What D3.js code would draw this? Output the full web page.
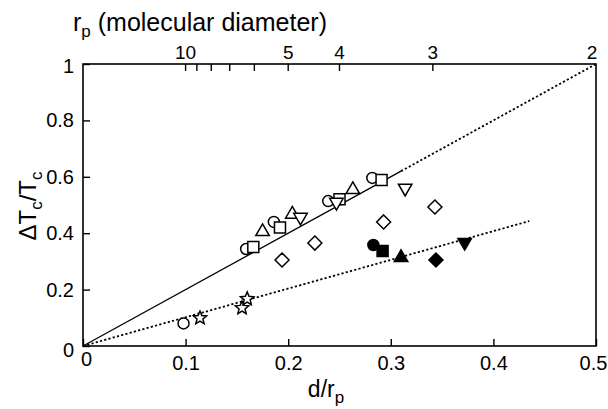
<!DOCTYPE html>
<html><head><meta charset="utf-8">
<script src="https://cdn.jsdelivr.net/npm/d3@7"></script>
<style>
body{margin:0;background:#fff;}
text{font-family:"Liberation Sans",Arial,Helvetica,sans-serif;fill:#000;}
</style></head>
<body><svg id="c" width="608" height="409"></svg>
<script>
// ---- data ----
const xTicks = [0, 0.1, 0.2, 0.3, 0.4, 0.5];
const yTicks = [0, 0.2, 0.4, 0.6, 0.8, 1];
const topTickLabels = ["10", "5", "4", "3", "2"];
const topTickLabelPos = [0.1, 0.2, 0.25, 0.341, 0.5];
const topTickPos = [0.1, 0.111, 0.125, 0.143, 0.167, 0.2, 0.25, 0.341];

const openCircle   = [[0.098,0.080],[0.159,0.344],[0.186,0.440],[0.239,0.514],[0.282,0.596]];
const openSquare   = [[0.166,0.351],[0.192,0.420],[0.250,0.520],[0.291,0.589]];
const openTriUp    = [[0.175,0.408],[0.204,0.470],[0.263,0.557]];
const openTriDown  = [[0.212,0.454],[0.247,0.507],[0.314,0.557]];
const openDiamond  = [[0.194,0.305],[0.226,0.365],[0.293,0.440],[0.343,0.493]];
const openStar     = [[0.114,0.099],[0.155,0.135],[0.160,0.167]];
const fillCircle   = [[0.283,0.358]];
const fillSquare   = [[0.292,0.337]];
const fillTriUp    = [[0.310,0.316]];
const fillDiamond  = [[0.344,0.305]];
const fillTriDown  = [[0.372,0.365]];

const upperSolid  = [[0,0],[0.31,0.62]];
const upperDotted = [[0.31,0.62],[0.5,1.0]];
const lowerDotted = [[0,0],[0.435,0.443]];

// ---- chart ----
const svg = d3.select("#c");
const x = d3.scaleLinear().domain([0,0.5]).range([83,596]);
const y = d3.scaleLinear().domain([0,1]).range([346,64]);
const fs = 20;

// frame
svg.append("rect").attr("x",x(0)).attr("y",y(1)).attr("width",x(0.5)-x(0)).attr("height",y(0)-y(1))
  .attr("fill","none").attr("stroke","#000").attr("stroke-width",1.6);

// bottom axis
const gb = svg.append("g").attr("transform",`translate(0,${y(0)})`)
  .call(d3.axisBottom(x).tickValues(xTicks).tickSize(-7).tickPadding(10).tickFormat(d=>d===0?"0":d3.format(".1f")(d)));
gb.select(".domain").remove();
gb.selectAll("line").attr("stroke","#000").attr("stroke-width",1.4);
gb.selectAll("text").attr("font-size",fs).attr("font-family",null);
gb.selectAll(".tick").filter(d=>d===0).select("text").attr("dx",3).attr("dy","0.5em");
gb.selectAll(".tick").filter(d=>d===0.5).select("text").attr("dx",-3);

// left axis
const gl = svg.append("g").attr("transform",`translate(${x(0)},0)`)
  .call(d3.axisLeft(y).tickValues(yTicks).tickSize(-7).tickPadding(9).tickFormat(d=>d===0||d===1?String(d):d3.format(".1f")(d)));
gl.select(".domain").remove();
gl.selectAll("line").attr("stroke","#000").attr("stroke-width",1.4);
gl.selectAll("text").attr("font-size",fs).attr("font-family",null);
gl.selectAll(".tick").filter(d=>d===0).select("text").attr("dy","0.5em");
gl.selectAll(".tick").filter(d=>d===1).select("text").attr("dy","0.4em");

// top axis (r_p), ticks inward
const gt = svg.append("g").attr("transform",`translate(0,${y(1)})`);
gt.selectAll("line").data(topTickPos).join("line")
  .attr("x1",d=>x(d)).attr("x2",d=>x(d)).attr("y1",0).attr("y2",7)
  .attr("stroke","#000").attr("stroke-width",1.4);
gt.selectAll("text").data(topTickLabels).join("text")
  .attr("x",(d,i)=>x(topTickLabelPos[i]) - (i===4?4:0)).attr("y",-5)
  .attr("text-anchor","middle").attr("font-size",19).text(d=>d);

// titles
const tt = svg.append("text").attr("x",73).attr("y",31).attr("font-size",25);
tt.append("tspan").text("r");
tt.append("tspan").attr("font-size",17).attr("dy",6).text("p");
tt.append("tspan").attr("dy",-6).text(" (molecular diameter)");

const xt = svg.append("text").attr("x",326).attr("y",397).attr("text-anchor","middle").attr("font-size",23);
xt.append("tspan").text("d/r");
xt.append("tspan").attr("font-size",17).attr("dy",6).text("p");

const yt = svg.append("text").attr("transform","translate(36,206) rotate(-90)").attr("text-anchor","middle").attr("font-size",24);
yt.append("tspan").text("\u0394T");
yt.append("tspan").attr("font-size",17).attr("dy",6).text("c");
yt.append("tspan").attr("dy",-6).text("/T");
yt.append("tspan").attr("font-size",17).attr("dy",6).text("c");

// lines
const line = d3.line().x(d=>x(d[0])).y(d=>y(d[1]));
svg.append("path").attr("d",line(upperSolid)).attr("fill","none").attr("stroke","#000").attr("stroke-width",1.3);
svg.append("path").attr("d",line(upperDotted)).attr("fill","none").attr("stroke","#000").attr("stroke-width",1.8).attr("stroke-dasharray","2.2,2.2");
svg.append("path").attr("d",line(lowerDotted)).attr("fill","none").attr("stroke","#000").attr("stroke-width",1.8).attr("stroke-dasharray","2.2,2.2");

// symbols
function circlePath(r){return `M${r},0A${r},${r} 0 1,1 ${-r},0A${r},${r} 0 1,1 ${r},0Z`;}
function squarePath(s){const h=s/2;return `M${-h},${-h}H${h}V${h}H${-h}Z`;}
function triUpPath(s){const h=s*Math.sqrt(3)/2;return `M0,${-h*0.6}L${s/2},${h*0.4}L${-s/2},${h*0.4}Z`;}
function triDownPath(s){const h=s*Math.sqrt(3)/2;return `M0,${h*0.6}L${s/2},${-h*0.4}L${-s/2},${-h*0.4}Z`;}
function diamondPath(r){return `M0,${-r}L${r},0L0,${r}L${-r},0Z`;}
function starPath(R){const r=R*0.45;let p="";for(let i=0;i<10;i++){const a=-Math.PI/2+i*Math.PI/5;const rr=i%2?r:R;p+=(i?"L":"M")+(rr*Math.cos(a)).toFixed(2)+","+(rr*Math.sin(a)).toFixed(2);}return p+"Z";}

function plot(data, path, filled){
  svg.append("g").selectAll("path").data(data).join("path")
    .attr("transform",d=>`translate(${x(d[0])},${y(d[1])})`)
    .attr("d",path)
    .attr("fill",filled?"#000":"#fff").attr("stroke","#000").attr("stroke-width",1.5).attr("stroke-linejoin","miter");
}
plot(openDiamond, diamondPath(7), false);
plot(openStar, starPath(7), false);
plot(openCircle, circlePath(5.5), false);
plot(openSquare, squarePath(11), false);
plot(openTriUp, triUpPath(13.5), false);
plot(openTriDown, triDownPath(13.5), false);
plot(fillCircle, circlePath(5.5), true);
plot(fillSquare, squarePath(11), true);
plot(fillTriUp, triUpPath(13.5), true);
plot(fillDiamond, diamondPath(7), true);
plot(fillTriDown, triDownPath(13.5), true);
</script></body></html>
